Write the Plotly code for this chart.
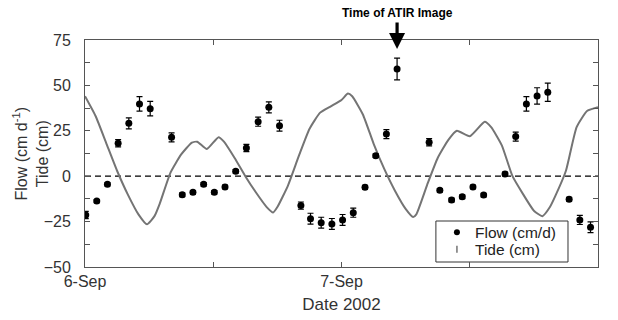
import plotly.graph_objects as go

# Flow measurements: hours since 6-Sep 00:00, value (cm/d), error
flow_hours = [0.07, 1.1, 2.1, 3.1, 4.1, 5.1, 6.1, 8.1, 9.1, 10.1, 11.1, 12.1, 13.1, 14.1, 15.1,
              16.2, 17.2, 18.2, 20.2, 21.1, 22.1, 23.1, 24.1, 25.1, 26.2, 27.2, 28.2, 29.2,
              32.2, 33.2, 34.3, 35.3, 36.3, 37.3, 39.3, 40.3, 41.3, 42.3, 43.3, 45.3, 46.3, 47.3]
flow_values = [-21.4, -13.7, -4.5, 18.1, 29.1, 39.8, 37.2, 21.4, -10.2, -8.9, -4.5, -8.9, -5.9, 2.7, 15.5,
               30.0, 37.9, 27.8, -16.2, -23.4, -25.6, -26.3, -24.1, -20.1, -6.1, 11.3, 23.2, 59.0,
               18.7, -7.8, -13.1, -11.3, -5.9, -10.4, 1.2, 21.8, 39.8, 44.2, 46.2, -12.7, -24.1, -28.1]
flow_errors = [2, 0.8, 0.8, 2, 3, 4, 4, 2.5, 1, 1, 1, 1, 1, 1, 2,
               2.5, 3, 3, 2, 3, 3, 3, 3, 2.5, 1, 1, 2.5, 6,
               2, 1, 1, 1, 1, 1, 1, 2.5, 4, 4.5, 5, 1, 2.5, 3]

# Tide: hours since 6-Sep 00:00, height (cm)
tide_hours = [0, 1, 2, 3, 4, 5, 5.8, 6.5, 7, 8, 9, 10, 10.5, 11.4, 12.5, 13, 14, 15, 16, 17, 17.6,
              18, 19, 20, 21, 22, 23, 24, 24.6, 25, 26, 27, 28, 29, 30, 30.7, 31, 32, 33, 34,
              34.8, 36, 37.4, 38, 39, 40, 41, 42, 42.8, 43.5, 44, 45, 46, 47, 48]
tide_values = [44, 33, 18, 3, -10, -21, -26.5, -22, -15, 2, 12, 18.5, 19, 15, 21.5, 19, 10, 0, -9, -17, -20,
               -17, -5, 11, 26, 35, 38.5, 42, 45.5, 44, 34, 18, 4, -8, -18, -22.5, -21, -5, 10, 20,
               25, 22, 30, 27, 17, 0, -10, -19, -22, -17, -11, 3, 27, 36, 38]

day_ticks = [0, 24, 48]
day_labels = ["6-Sep", "7-Sep", "8-Sep"]
atir_hour = 29.2
legend_labels = ["Flow (cm/d)", "Tide (cm)"]

FONT = "Liberation Sans, Arial, Helvetica, sans-serif"
GRAY = "#747474"
TXT = "#333333"
AX = "#555555"

fig = go.Figure()

fig.add_trace(go.Scatter(
    x=tide_hours, y=tide_values, mode="lines",
    line=dict(color=GRAY, width=2, shape="spline", smoothing=0.5),
    showlegend=False, hoverinfo="skip"))

fig.add_trace(go.Scatter(
    x=flow_hours, y=flow_values, mode="markers", name=legend_labels[0],
    marker=dict(color="black", size=7, symbol="circle"),
    error_y=dict(type="data", array=flow_errors, color="black", thickness=1.2, width=3),
    showlegend=False))

fig.add_shape(type="line", xref="x", yref="y", x0=0, x1=48, y0=0, y1=0,
              line=dict(color="black", width=1.2, dash="6px,4px"), layer="below")

# manual legend (box + symbols + labels), positions as fractions of the plot area
lx0, lx1, ly0, ly1 = 0.684, 0.9415, 0.022, 0.2026
sym_x, txt_x = 0.725, 0.757
row_y = [0.153, 0.078]
fig.add_shape(type="rect", xref="paper", yref="paper", x0=lx0, x1=lx1, y0=ly0, y1=ly1,
              line=dict(color="#333333", width=1), fillcolor="white", layer="below")
fig.add_trace(go.Scatter(
    x=[sym_x], y=[row_y[0]], xaxis="x2", yaxis="y2", mode="markers",
    marker=dict(color="black", size=6, symbol="circle"), showlegend=False, hoverinfo="skip"))
fig.add_trace(go.Scatter(
    x=[sym_x], y=[row_y[1]], xaxis="x2", yaxis="y2", mode="markers",
    marker=dict(symbol="line-ns-open", size=5, color=GRAY, line=dict(color=GRAY, width=1.5)),
    showlegend=False, hoverinfo="skip"))
for lab, yy in zip(legend_labels, row_y):
    fig.add_annotation(x=txt_x, y=yy, xref="paper", yref="paper", text=lab, showarrow=False,
                       xanchor="left", yanchor="middle",
                       font=dict(family=FONT, size=15.5, color="#222222"))

# ATIR marker: bold label with arrow pointing down to the top axis
fig.add_annotation(x=atir_hour, y=70, xref="x", yref="y", ax=0, ay=-36,
                   text="<b>Time of ATIR Image</b>", font=dict(family=FONT, size=12, color="black"),
                   showarrow=True, arrowhead=2, arrowsize=1.0, arrowwidth=3.2, arrowcolor="black",
                   standoff=0, startstandoff=1)

# y-axis title as rotated two-line annotation
fig.add_annotation(x=0, y=0.5, xref="paper", yref="paper", xshift=-54, textangle=-90,
                   text="Flow (cm d<sup>-1</sup>)<br>Tide (cm)", showarrow=False,
                   xanchor="center", yanchor="middle",
                   font=dict(family=FONT, size=16, color=TXT))

xaxis = dict(
    range=[0, 48], tickmode="array", tickvals=day_ticks, ticktext=day_labels,
    showgrid=False, zeroline=False, showline=True, linecolor=AX, linewidth=1,
    mirror="ticks", ticks="inside", ticklen=5, tickcolor=AX, automargin=False,
    tickfont=dict(family=FONT, size=16, color=TXT), ticklabelstandoff=0,
    minor=dict(dtick=12, tick0=0, ticks="inside", ticklen=5, tickcolor=AX),
    title=dict(text="Date 2002", font=dict(family=FONT, size=17, color=TXT), standoff=8))
yaxis = dict(
    range=[-50, 75], tickmode="linear", tick0=0, dtick=25,
    showgrid=False, zeroline=False, showline=True, linecolor=AX, linewidth=1,
    mirror="ticks", ticks="inside", ticklen=5, tickcolor=AX, automargin=False,
    tickfont=dict(family=FONT, size=16, color=TXT), ticklabelstandoff=10,
    minor=dict(dtick=12.5, tick0=0, ticks="inside", ticklen=5, tickcolor=AX))

fig.update_layout(
    width=618, height=320,
    margin=dict(l=85, r=20, t=40, b=53, autoexpand=False),
    plot_bgcolor="white", paper_bgcolor="white",
    font=dict(family=FONT, color=TXT),
    showlegend=False,
    xaxis=xaxis, yaxis=yaxis,
    xaxis2=dict(overlaying="x", range=[0, 1], visible=False, anchor="y2", automargin=False),
    yaxis2=dict(overlaying="y", range=[0, 1], visible=False, anchor="x2", automargin=False),
)

fig.write_html("out.html")
